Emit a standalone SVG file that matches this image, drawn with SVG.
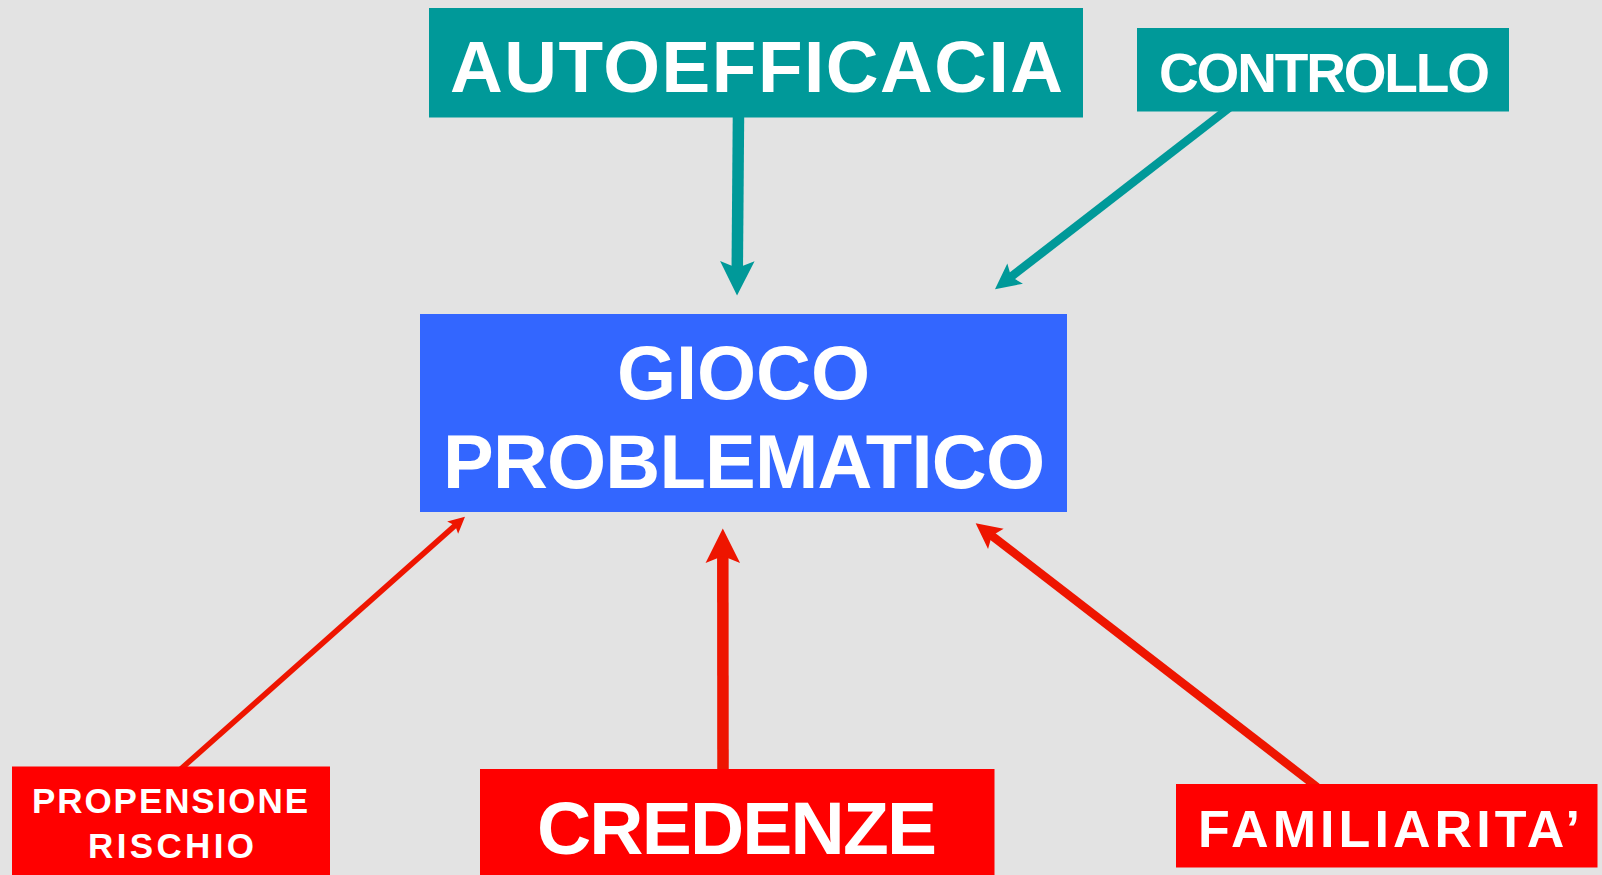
<svg xmlns="http://www.w3.org/2000/svg" width="1602" height="875" viewBox="0 0 1602 875">
<defs>
<style>
.lbl{font-family:"Liberation Sans",Arial,sans-serif;font-weight:bold;fill:#FFFFFF;}
.teal{fill:#009999;}
.red{fill:#FF0000;}
.blue{fill:#3366FF;}
.ct{stroke:#009999;fill:none;stroke-linecap:butt;marker-end:url(#ahT);}
.cr{stroke:#EE1500;fill:none;stroke-linecap:butt;marker-end:url(#ahR);}
</style>
<marker id="ahT" viewBox="-2 -2 4 4" markerWidth="4" markerHeight="4" refX="0" refY="0" orient="auto" markerUnits="strokeWidth">
<path d="M1.7,0 L-1.3,-1.5 L-0.7,0 L-1.3,1.5 Z" fill="#009999"/>
</marker>
<marker id="ahR" viewBox="-2 -2 4 4" markerWidth="4" markerHeight="4" refX="0" refY="0" orient="auto" markerUnits="strokeWidth">
<path d="M1.7,0 L-1.3,-1.5 L-0.7,0 L-1.3,1.5 Z" fill="#EE1500"/>
</marker>
</defs>
<rect x="0" y="0" width="1602" height="875" fill="#E3E3E3"/>
<g id="connectors">
<line class="ct" x1="738.5" y1="112" x2="737.2" y2="276" stroke-width="11.5"/>
<line class="ct" x1="1231" y1="106.5" x2="1006.4" y2="280.4" stroke-width="8.5"/>
<line class="cr" x1="178" y1="771.5" x2="458" y2="522.9" stroke-width="5.5"/>
<line class="cr" x1="723" y1="774" x2="722.8" y2="548" stroke-width="11.5"/>
<line class="cr" x1="1317" y1="787" x2="987.1" y2="532.1" stroke-width="8.5"/>
</g>
<g id="autoefficacia">
<rect class="teal" x="429" y="8" width="654" height="109.5"/>
<text class="lbl" x="450" y="91.7" font-size="73" textLength="613" lengthAdjust="spacing">AUTOEFFICACIA</text>
</g>
<g id="controllo">
<rect class="teal" x="1137" y="28" width="372" height="83.5"/>
<text class="lbl" x="1159" y="91.7" font-size="55" textLength="331" lengthAdjust="spacing">CONTROLLO</text>
</g>
<g id="gioco-problematico">
<rect class="blue" x="420" y="314" width="647" height="198"/>
<text class="lbl" x="617" y="398.7" font-size="76" textLength="253" lengthAdjust="spacing">GIOCO</text>
<text class="lbl" x="443" y="488.3" font-size="76" textLength="602" lengthAdjust="spacing">PROBLEMATICO</text>
</g>
<g id="propensione-rischio">
<rect class="red" x="12" y="766.5" width="318" height="110"/>
<text class="lbl" x="32" y="812.7" font-size="35" textLength="276" lengthAdjust="spacing">PROPENSIONE</text>
<text class="lbl" x="88" y="858" font-size="35" textLength="166" lengthAdjust="spacing">RISCHIO</text>
</g>
<g id="credenze">
<rect class="red" x="480" y="769" width="514.5" height="110"/>
<text class="lbl" x="537" y="854" font-size="75" textLength="400" lengthAdjust="spacing">CREDENZE</text>
</g>
<g id="familiarita">
<rect class="red" x="1176" y="784" width="421.5" height="83.5"/>
<text class="lbl" x="1198" y="847.3" font-size="52" textLength="382" lengthAdjust="spacing">FAMILIARITA’</text>
</g>
</svg>
